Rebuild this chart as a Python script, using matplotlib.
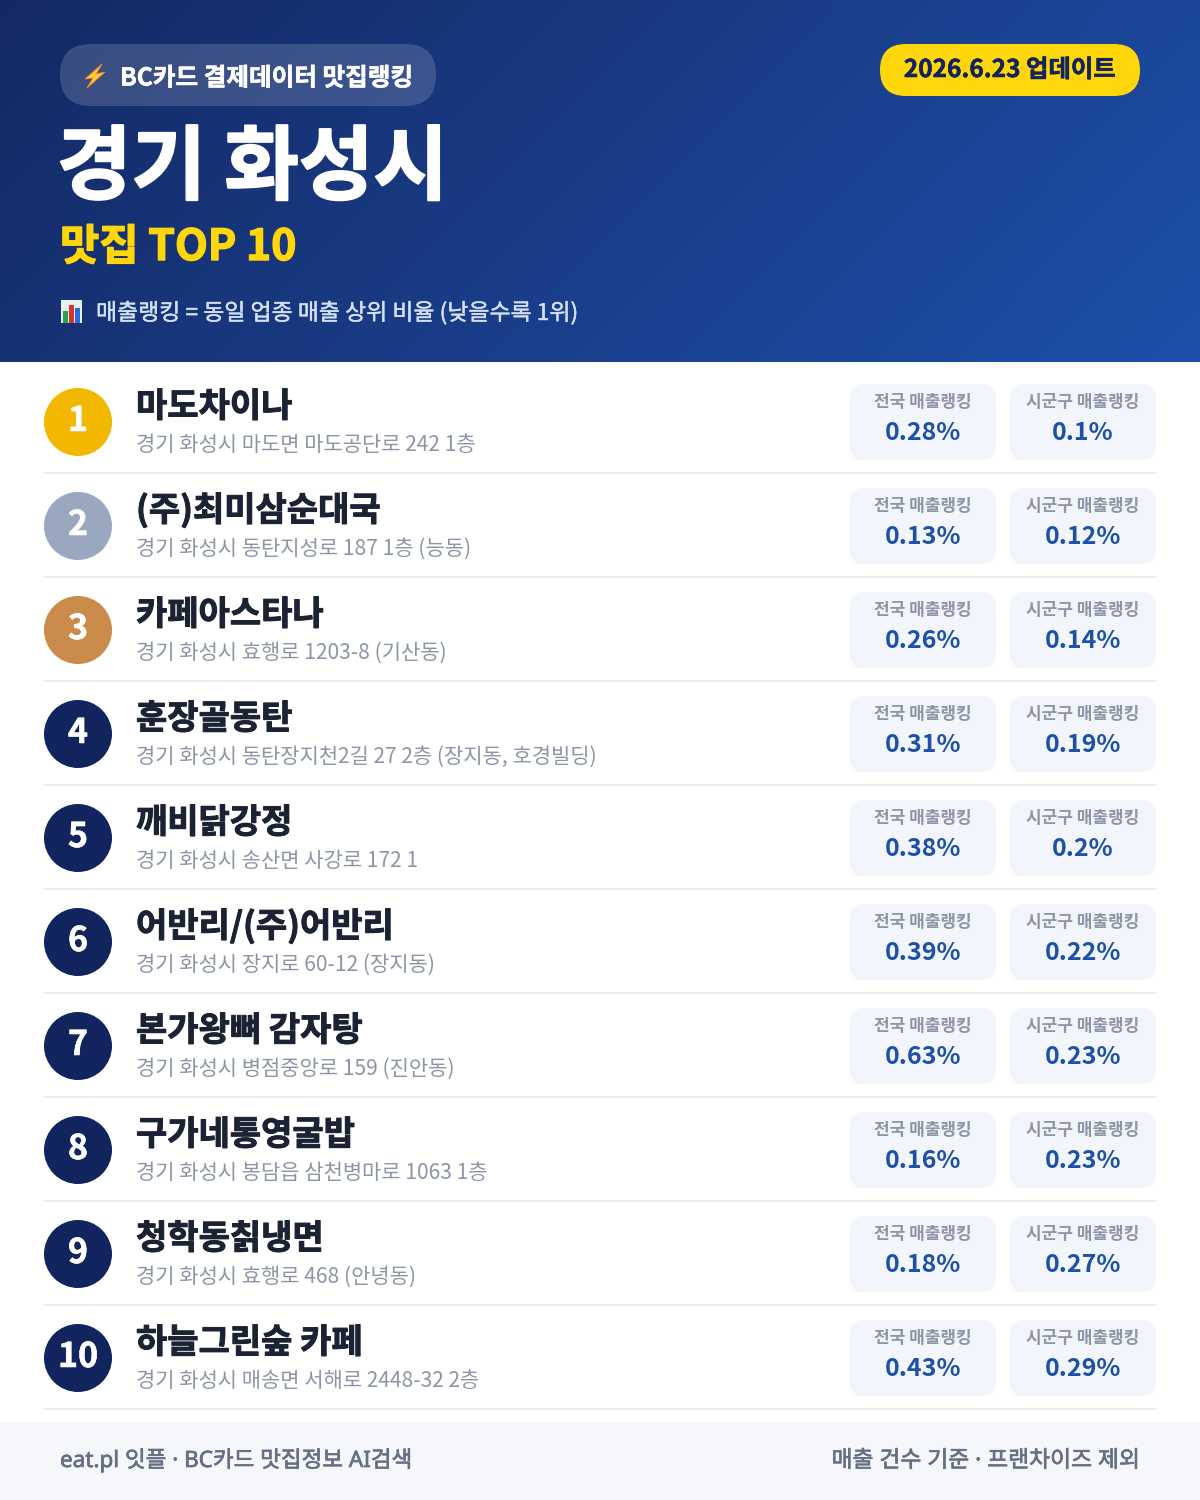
import numpy as np
import matplotlib
matplotlib.use("Agg")
import matplotlib.pyplot as plt
import matplotlib.patheffects as pe
from matplotlib.patches import FancyBboxPatch, Circle, Rectangle, Polygon

plt.rcParams['font.family'] = ['Noto Sans CJK KR', 'DejaVu Sans']

names = ["마도차이나", "(주)최미삼순대국", "카페아스타나", "훈장골동탄", "깨비닭강정",
         "어반리/(주)어반리", "본가왕뼈 감자탕", "구가네통영굴밥", "청학동칡냉면", "하늘그린숲 카페"]
addresses = ["경기 화성시 마도면 마도공단로 242 1층", "경기 화성시 동탄지성로 187 1층 (능동)",
             "경기 화성시 효행로 1203-8 (기산동)", "경기 화성시 동탄장지천2길 27 2층 (장지동, 호경빌딩)",
             "경기 화성시 송산면 사강로 172 1", "경기 화성시 장지로 60-12 (장지동)",
             "경기 화성시 병점중앙로 159 (진안동)", "경기 화성시 봉담읍 삼천병마로 1063 1층",
             "경기 화성시 효행로 468 (안녕동)", "경기 화성시 매송면 서해로 2448-32 2층"]
national = [0.28, 0.13, 0.26, 0.31, 0.38, 0.39, 0.63, 0.16, 0.18, 0.43]
sigungu = [0.1, 0.12, 0.14, 0.19, 0.2, 0.22, 0.23, 0.23, 0.27, 0.29]
ranks = list(range(1, 11))
badge_colors = {1: "#f2b800", 2: "#9aa8bf", 3: "#cb8c4b"}

NAVY = "#12245e"
BLUE = "#1e50a8"
GREY = "#8d96a6"
fig = plt.figure(figsize=(12, 15), dpi=100, facecolor="white")
ax = fig.add_axes([0, 0, 1, 1])
ax.set_xlim(0, 1200)
ax.set_ylim(1500, 0)
ax.axis("off")


def px(s):
    return s * 0.72


def label(x, y, s, size, color, weight="normal", ha="left", stroke=0, **kw):
    t = ax.text(x, y, s, fontsize=px(size), color=color, fontweight=weight, ha=ha, va="baseline", **kw)
    if stroke:
        t.set_path_effects([pe.withStroke(linewidth=stroke, foreground=color)])


def rbox(x0, y0, x1, y1, r, **kw):
    ax.add_patch(FancyBboxPatch((x0, y0), x1 - x0, y1 - y0,
                                boxstyle=f"round,pad=0,rounding_size={r}", lw=0, **kw))


# Header with diagonal gradient
gx, gy = np.meshgrid(np.linspace(0, 1, 300), np.linspace(0, 1, 100))
t = np.clip(gx * 0.77 + gy * 0.23, 0, 1)
c0 = np.array([0x14, 0x29, 0x64]) / 255
c1 = np.array([0x1e, 0x50, 0xaa]) / 255
grad = c0[None, None, :] * (1 - t[..., None]) + c1[None, None, :] * t[..., None]
ax.imshow(grad, extent=(0, 1200, 362, 0), aspect="auto", interpolation="bilinear", zorder=0)
ax.set_xlim(0, 1200)
ax.set_ylim(1500, 0)

# Tag pill
rbox(60, 44, 436, 106, 31, facecolor="white", alpha=0.16, zorder=1)
ax.add_patch(Polygon([(102, 64), (85, 79), (93, 78), (87, 88), (105, 72), (96, 74)],
                     closed=True, facecolor="#ffc83d", edgecolor="#f08a24", lw=0.6, zorder=2))
label(120, 85.5, "BC카드 결제데이터 맛집랭킹", 24.6, "white", "bold", stroke=0.4, zorder=2)

# Date pill
rbox(880, 44, 1140, 96, 26, facecolor="#ffd60a", zorder=1)
label(1010, 77, "2026.6.23 업데이트", 24.4, NAVY, "bold", ha="center", stroke=0.4, zorder=2)

# Titles
label(57, 193, "경기 화성시", 81, "white", "bold", stroke=1.5, zorder=2)
label(60, 260, "맛집 TOP 10", 42.7, "#ffd60a", "bold", stroke=1.0, zorder=2)

# Bar chart icon and note
ax.add_patch(Rectangle((61, 300), 21, 23, facecolor="#e8eef5", lw=0, zorder=2))
for bx, by, bc in [(63, 311, "#2f9e44"), (69, 305, "#d9342b"), (75, 308, "#2b6cd9")]:
    ax.add_patch(Rectangle((bx, by), 5, 323 - by, facecolor=bc, lw=0, zorder=3))
label(96, 320, "매출랭킹 = 동일 업종 매출 상위 비율 (낮을수록 1위)", 22.9, "#d4e0f5", stroke=0.3, zorder=2)

# Rows
for i, rank in enumerate(ranks):
    cy = 422 + 104 * i
    ax.add_patch(Circle((78, cy), 34, facecolor=badge_colors.get(rank, NAVY), lw=0, zorder=2))
    label(78, cy + 9, str(rank), 34, "white", "bold", ha="center", stroke=0.4, zorder=3)
    label(136, cy - 5, names[i], 34, "#1a2233", "bold", stroke=0.7, zorder=2)
    label(136, cy + 29, addresses[i], 21, GREY, zorder=2)
    for x0, head, val in [(850, "전국 매출랭킹", national[i]), (1010, "시군구 매출랭킹", sigungu[i])]:
        rbox(x0, cy - 38, x0 + 146, cy + 38, 14, facecolor="#f2f5fc", zorder=1)
        label(x0 + 73, cy - 15, head, 17, GREY, "bold", ha="center", zorder=2)
        label(x0 + 73, cy + 18.5, f"{val:g}%", 25, BLUE, "bold", ha="center", zorder=2)
    ax.add_patch(Rectangle((44, cy + 50), 1112, 2, facecolor="#eceef2", lw=0, zorder=1))

# Footer
FOOT = ['Noto Sans', 'Noto Sans CJK KR']
ax.add_patch(Rectangle((0, 1422), 1200, 78, facecolor="#f5f7fb", lw=0, zorder=1))
label(60, 1467, "eat.pl 잇플 · BC카드 맛집정보 AI검색", 22.5, "#657085", stroke=0.5, family=FOOT, zorder=2)
label(1140, 1467, "매출 건수 기준 · 프랜차이즈 제외", 22.8, "#657085", ha="right", stroke=0.5, family=FOOT, zorder=2)

fig.savefig("out.png", dpi=100, facecolor="white")
